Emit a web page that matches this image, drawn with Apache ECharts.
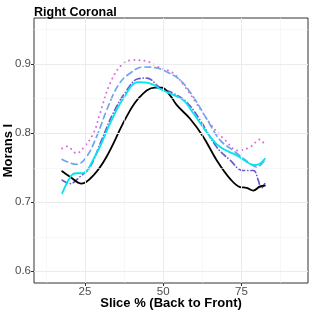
<!DOCTYPE html>
<html><head><meta charset="utf-8">
<script src="https://cdn.jsdelivr.net/npm/echarts@6/dist/echarts.min.js"></script>
<style>html,body{margin:0;padding:0;background:#fff}#c{width:312px;height:312px}</style>
</head><body><div id="c"></div>
<script>
const xTicks = [25, 50, 75];
const xMinor = [12.5, 37.5, 62.5, 87.5];
const yTicks = [0.6, 0.7, 0.8, 0.9];
const yMinor = [0.65, 0.75, 0.85, 0.95];

const blackX = [17.7,20.2,23.9,27.7,31.9,38.3,42.6,47.4,49.5,52.2,54.3,58.6,62.8,67.1,71.4,74.6,76.7,78.8,81.0,82.5];
const blackY = [0.745,0.737,0.727,0.739,0.766,0.824,0.853,0.866,0.866,0.855,0.841,0.821,0.795,0.761,0.734,0.722,0.721,0.717,0.723,0.724];

const cyanX = [17.7,20.7,22.3,23.9,28.7,33.0,37.2,42.0,45.2,50.0,56.4,59.6,65.0,68.2,73.5,79.4,81.0,82.5];
const cyanY = [0.713,0.739,0.742,0.742,0.771,0.814,0.850,0.874,0.873,0.862,0.848,0.829,0.795,0.780,0.768,0.754,0.756,0.763];

const orchidX = [17.7,19.3,22.3,24.5,27.7,29.8,33.0,36.7,40.4,44.2,48.4,53.2,57.0,60.7,65.0,69.8,74.0,77.8,81.0,82.3];
const orchidY = [0.778,0.781,0.771,0.779,0.800,0.829,0.872,0.899,0.906,0.905,0.896,0.887,0.867,0.843,0.814,0.790,0.775,0.780,0.791,0.784];

const cornX = [17.7,22.3,25.5,28.7,31.9,35.7,39.4,43.7,47.4,51.1,55.4,59.6,63.9,68.2,72.4,77.8,79.9,82.5];
const cornY = [0.762,0.755,0.766,0.795,0.833,0.870,0.887,0.896,0.895,0.889,0.877,0.853,0.821,0.790,0.775,0.756,0.751,0.761];

const slateX = [17.7,20.2,23.4,26.6,30.3,34.0,38.3,42.0,44.7,49.0,53.2,57.5,61.8,67.1,71.4,75.6,78.8,80.4,81.3,82.5];
const slateY = [0.732,0.727,0.737,0.751,0.790,0.829,0.862,0.879,0.880,0.866,0.858,0.845,0.819,0.780,0.761,0.746,0.746,0.732,0.720,0.727];

const zip = (xs, ys) => xs.map((x, i) => [x, ys[i]]);

const gridSeries = {
  type: 'line', data: [], silent: true, z: 1,
  markLine: {
    silent: true, symbol: 'none', label: {show: false}, animation: false,
    data: [
      ...xMinor.map(v => ({xAxis: v, lineStyle: {color: '#f4f4f4', width: 0.6, type: 'solid'}})),
      ...yMinor.map(v => ({yAxis: v, lineStyle: {color: '#f4f4f4', width: 0.6, type: 'solid'}})),
      ...xTicks.map(v => ({xAxis: v, lineStyle: {color: '#ebebeb', width: 1, type: 'solid'}})),
      ...yTicks.map(v => ({yAxis: v, lineStyle: {color: '#ebebeb', width: 1, type: 'solid'}}))
    ]
  }
};

function line(xs, ys, color, dash, width) {
  return {
    type: 'line', data: zip(xs, ys), showSymbol: false, smooth: 0.4, z: 3,
    lineStyle: {color: color, width: width || 1.7, type: dash, cap: 'round'}
  };
}

const chart = echarts.init(document.getElementById('c'), null, {renderer: 'canvas'});
chart.setOption({
  animation: false,
  title: {text: 'Right Coronal', left: 29, top: 1,
    textStyle: {fontFamily: 'Liberation Sans', fontWeight: 'bold', fontSize: 12.5, color: '#000'}},
  grid: {left: 34, right: 4, top: 18, bottom: 29, containLabel: false, outerBoundsMode: 'none',
    show: true, borderColor: '#333', borderWidth: 1},
  xAxis: {
    type: 'value', min: 8.7, max: 96.3,
    name: 'Slice % (Back to Front)', nameLocation: 'middle', nameGap: 14, nameMoveOverlap: false,
    nameTextStyle: {fontFamily: 'Liberation Sans', fontWeight: 'bold', fontSize: 13, color: '#000'},
    axisLine: {show: false},
    axisTick: {show: true, customValues: xTicks, length: 3, lineStyle: {color: '#333'}},
    axisLabel: {customValues: xTicks, fontFamily: 'Liberation Sans', fontSize: 11.5, color: '#4d4d4d', margin: 3},
    splitLine: {show: false}
  },
  yAxis: {
    type: 'value', min: 0.583, max: 0.967,
    name: 'Morans I', nameLocation: 'middle', nameGap: 19, nameMoveOverlap: false,
    nameTextStyle: {fontFamily: 'Liberation Sans', fontWeight: 'bold', fontSize: 13, color: '#000'},
    axisLine: {show: false},
    axisTick: {show: true, customValues: yTicks, length: 3, lineStyle: {color: '#333'}},
    axisLabel: {customValues: yTicks, fontFamily: 'Liberation Sans', fontSize: 11.5, color: '#4d4d4d', margin: 3,
      formatter: v => v.toFixed(1)},
    splitLine: {show: false}
  },
  series: [
    gridSeries,
    line(orchidX, orchidY, '#DA70D6', [0.1, 5], 2),
    line(cornX, cornY, '#6CA6EE', [6, 4]),
    line(slateX, slateY, '#6A5ACD', [6, 3, 0.1, 3]),
    line(blackX, blackY, '#000000', 'solid', 1.8),
    line(cyanX, cyanY, '#00E5EE', 'solid', 1.8)
  ]
});
</script></body></html>
